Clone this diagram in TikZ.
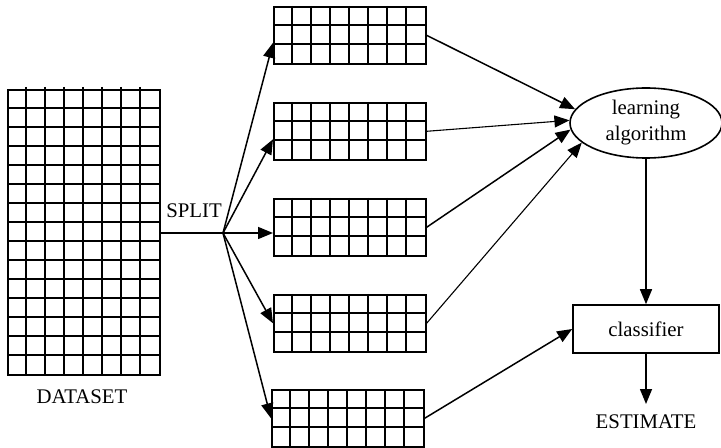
\documentclass[tikz,border=0pt]{standalone}
\usepackage{fontspec}
\setmainfont{Liberation Serif}
\usetikzlibrary{arrows.meta,shapes.geometric}
\begin{document}
\begin{tikzpicture}[x=1bp,y=-1bp,
  gl/.style={line width=1.6bp},
  arr/.style={line width=1.5bp,-{Triangle[length=15bp,width=12bp]}},
  thinarr/.style={line width=1.1bp,-{Triangle[length=15bp,width=12bp]}},
  lbl/.style={font=\fontsize{20.8bp}{25bp}\selectfont, inner sep=0pt}]
\useasboundingbox (0,0) rectangle (721,448);
% dataset
\node[draw, gl, minimum width=152bp, minimum height=285bp, inner sep=0pt, anchor=north west] (ds) at (7,89) {};
\foreach \i in {1,...,7} \draw[gl] (7+19*\i,87) -- (7+19*\i,376);
\foreach \j in {1,...,14} \draw[gl] (7,89+19*\j) -- (159,89+19*\j);
\node[lbl] (dsl) at (82,397) {DATASET};
% small grids
\foreach \n/\x/\y in {g1/273/6, g2/273/102, g3/273/198, g4/273/294, g5/271/389} {
  \node[draw, gl, minimum width=152bp, minimum height=57bp, inner sep=0pt, anchor=north west] (\n) at (\x,\y) {};
  \foreach \i in {1,...,7} \draw[gl] (\x+19*\i,\y) -- (\x+19*\i,\y+57);
  \foreach \j in {1,2} \draw[gl] (\x,\y+19*\j) -- (\x+152,\y+19*\j);
}
% split
\coordinate (sp) at (223,233);
\draw[arr, -] (ds.east |- sp) -- (sp);
\node[lbl] (spl) at (194,211) {SPLIT};
\draw[arr] (sp) -- ([yshift=-7.5bp]g1.west);
\draw[arr] (sp) -- ([yshift=-8bp]g2.west);
\draw[arr] (sp) -- (sp -| g3.west);
\draw[arr] (sp) -- (g4.west);
\draw[arr] (sp) -- (g5.west);
% learning algorithm
\node[draw, gl, ellipse, minimum width=152bp, minimum height=70bp, inner sep=0pt,
      align=center, font=\fontsize{20.8bp}{26bp}\selectfont] (la) at (646,123) {learning\\algorithm};
\draw[arr] (g1.east) -- (la.169);
\draw[thinarr] (g2.east) -- (la.178);
\draw[arr] (g3.east) -- (la.185);
\draw[thinarr] (g4.east) -- (la.197);
% classifier
\node[draw, gl, minimum width=146bp, minimum height=48bp, inner sep=0pt,
      font=\fontsize{20.8bp}{25bp}\selectfont] (cl) at (646,329) {classifier};
\draw[arr] (la.south) -- (cl.north);
\draw[arr] (g5.east) -- (cl.west);
\node[lbl] (est) at (646,422) {ESTIMATE};
\coordinate (et) at (646,404);
\draw[arr] (cl.south) -- (et);
\end{tikzpicture}
\end{document}
